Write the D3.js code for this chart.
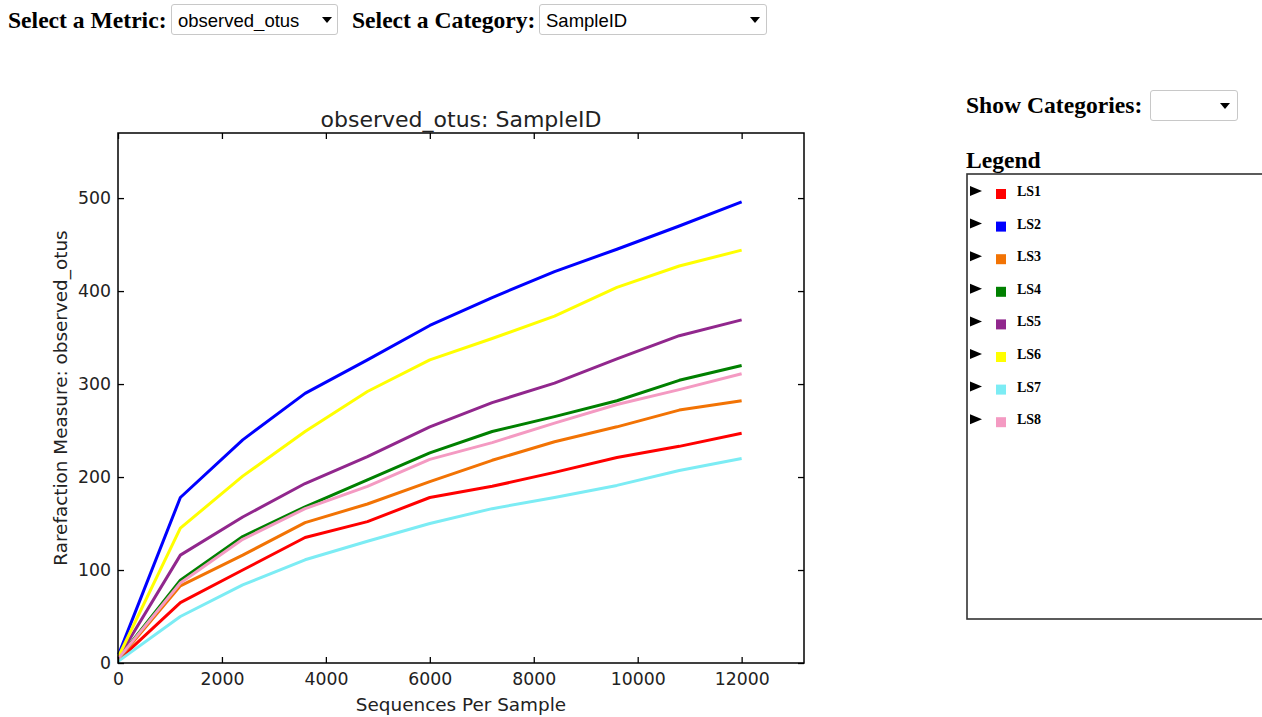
<!DOCTYPE html>
<html>
<head>
<meta charset="utf-8">
<script src="https://cdn.jsdelivr.net/npm/d3@7"></script>
<style>
  body { margin: 0; background: #fff; width: 1262px; height: 717px; overflow: hidden; position: relative; }
  svg { position: absolute; left: 0; top: 0; }
  select {
    position: absolute;
    -webkit-appearance: none; appearance: none;
    border: 1px solid #c8c8c8; border-radius: 3px;
    background: #fff url("data:image/svg+xml;utf8,<svg xmlns='http://www.w3.org/2000/svg' width='10' height='6'><path d='M0 0H10L5 6Z' fill='black'/></svg>") no-repeat;
    font: 18.5px "Liberation Sans", Arial, sans-serif;
    color: #000; padding: 2px 0 0 6px; box-sizing: border-box;
  }
</style>
</head>
<body>
<div id="chart"></div>
<script>
// rarefaction depths and per-sample observed_otus
const depths = [10, 1200, 2400, 3600, 4800, 6000, 7200, 8400, 9600, 10800, 12000];
const samples = ["LS1", "LS2", "LS3", "LS4", "LS5", "LS6", "LS7", "LS8"];
const colors = ["#ff0000", "#0000ff", "#f27304", "#008000", "#91278d", "#ffff00", "#7cecf4", "#f49ac2"];
const ls1 = [3, 65, 100, 135, 152, 178, 190, 205, 221, 233, 247];
const ls2 = [9, 178, 240, 290, 326, 363, 393, 421, 445, 470, 496];
const ls3 = [4, 83, 116, 151, 171, 195, 218, 238, 254, 272, 282];
const ls4 = [5, 89, 136, 168, 197, 226, 249, 265, 282, 304, 320];
const ls5 = [6, 116, 157, 193, 222, 254, 280, 301, 327, 352, 369];
const ls6 = [7, 145, 201, 249, 292, 326, 349, 373, 404, 427, 444];
const ls7 = [2, 50, 84, 111, 131, 150, 166, 178, 191, 207, 220];
const ls8 = [5, 86, 133, 166, 190, 219, 237, 258, 278, 294, 311];
const xTicks = [0, 2000, 4000, 6000, 8000, 10000, 12000];
const yTicks = [0, 100, 200, 300, 400, 500];

const series = [ls1, ls2, ls3, ls4, ls5, ls6, ls7, ls8].map((v, i) => ({
  name: samples[i], color: colors[i], values: v.map((y, j) => ({ x: depths[j], y: y }))
}));

const width = 1262, height = 717;
const margin = { top: 133, right: 458, bottom: 54, left: 118 };

const body = d3.select("body");

// dropdowns
body.append("select").style("left", "171px").style("top", "4px")
  .style("width", "167px").style("height", "31px")
  .style("background-position", "150px 12px")
  .selectAll("option").data(["observed_otus"]).join("option").text(d => d);
body.append("select").style("left", "539px").style("top", "4px")
  .style("width", "228px").style("height", "31px")
  .style("background-position", "210px 12px")
  .selectAll("option").data(["SampleID"]).join("option").text(d => d);
body.append("select").style("left", "1150px").style("top", "90px")
  .style("width", "88px").style("height", "31px")
  .style("background-position", "69px 12px");

const svg = d3.select("#chart").append("svg")
  .attr("width", width).attr("height", height);

const serif = "'Liberation Serif', 'Times New Roman', serif";
const sans = "'DejaVu Sans', sans-serif";

const labels = [
  { t: "Select a Metric:", x: 8, y: 28 },
  { t: "Select a Category:", x: 352, y: 28 },
  { t: "Show Categories:", x: 966, y: 113 },
  { t: "Legend", x: 966, y: 168 }
];
svg.append("g").selectAll("text").data(labels).join("text")
  .attr("x", d => d.x).attr("y", d => d.y)
  .attr("font-family", serif).attr("font-weight", "bold").attr("font-size", 23.6)
  .text(d => d.t);

const x = d3.scaleLinear().domain([0, 13200]).range([margin.left, width - margin.right]);
const y = d3.scaleLinear().domain([0, 570]).range([height - margin.bottom, margin.top]);

const line = d3.line().x(d => x(d.x)).y(d => y(d.y));

svg.append("g")
  .attr("fill", "none")
  .attr("stroke-width", 3)
  .attr("stroke-linejoin", "round")
  .selectAll("path")
  .data(series)
  .join("path")
    .attr("stroke", d => d.color)
    .attr("d", d => line(d.values));

function styleAxis(g) {
  g.attr("font-family", sans).attr("font-size", 17.3);
  g.select(".domain").remove();
  g.selectAll(".tick line").attr("stroke", "#000").attr("stroke-width", 1.3);
  g.selectAll(".tick text").attr("fill", "#222");
}

svg.append("g")
  .attr("transform", `translate(0,${y(0)})`)
  .call(d3.axisBottom(x).tickValues(xTicks).tickSize(-6).tickPadding(10).tickFormat(d3.format("d")))
  .call(styleAxis);
svg.append("g")
  .attr("transform", `translate(0,${y(570)})`)
  .call(d3.axisTop(x).tickValues(xTicks).tickSize(-6).tickFormat(""))
  .call(styleAxis);
svg.append("g")
  .attr("transform", `translate(${x(0)},0)`)
  .call(d3.axisLeft(y).tickValues(yTicks).tickSize(-6).tickPadding(7))
  .call(styleAxis);
svg.append("g")
  .attr("transform", `translate(${x(13200)},0)`)
  .call(d3.axisRight(y).tickValues(yTicks).tickSize(-6).tickFormat(""))
  .call(styleAxis);

svg.append("rect")
  .attr("x", x(0)).attr("y", y(570))
  .attr("width", x(13200) - x(0)).attr("height", y(0) - y(570))
  .attr("fill", "none").attr("stroke", "#000").attr("stroke-width", 1.5);

svg.append("text")
  .attr("x", (x(0) + x(13200)) / 2).attr("y", 127)
  .attr("text-anchor", "middle").attr("font-family", sans).attr("font-size", 22)
  .attr("fill", "#222").text("observed_otus: SampleID");
svg.append("text")
  .attr("x", (x(0) + x(13200)) / 2).attr("y", 711)
  .attr("text-anchor", "middle").attr("font-family", sans).attr("font-size", 18.4)
  .attr("fill", "#222").text("Sequences Per Sample");
svg.append("text")
  .attr("transform", `translate(67,${(y(0) + y(570)) / 2}) rotate(-90)`)
  .attr("text-anchor", "middle").attr("font-family", sans).attr("font-size", 18.4)
  .attr("fill", "#222").text("Rarefaction Measure: observed_otus");

// legend box
svg.append("rect")
  .attr("x", 967).attr("y", 174).attr("width", 320).attr("height", 445)
  .attr("fill", "none").attr("stroke", "#333").attr("stroke-width", 1.6);

const rows = svg.append("g").selectAll("g").data(series).join("g")
  .attr("transform", (d, i) => `translate(0,${191 + i * 32.6})`);
rows.append("path").attr("d", "M970,-5L982,0L970,5Z").attr("fill", "#000");
rows.append("rect").attr("x", 996).attr("y", -2).attr("width", 10).attr("height", 10)
  .attr("fill", d => d.color);
rows.append("text").attr("x", 1017).attr("y", 5)
  .attr("font-family", serif).attr("font-weight", "bold").attr("font-size", 14)
  .text(d => d.name);
</script>
</body>
</html>
